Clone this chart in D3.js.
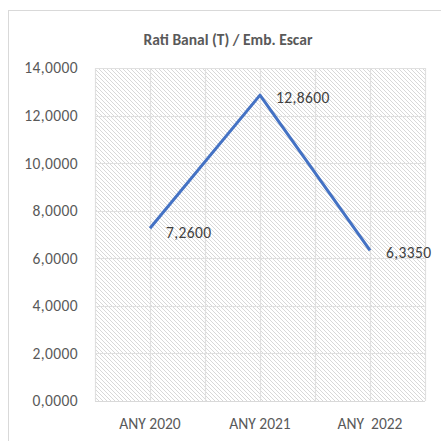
<!DOCTYPE html>
<html><head><meta charset="utf-8">
<script src="https://cdn.jsdelivr.net/npm/d3@7"></script>
<style>body{margin:0;background:#fff}</style>
</head><body>
<script>
const categories = ["ANY 2020", "ANY 2021", "ANY  2022"];
const values = [7.26, 12.86, 6.335];
const yTicks = [0, 2, 4, 6, 8, 10, 12, 14];
const title = "Rati Banal (T) / Emb. Escar";

const W = 441, H = 441;
const m = {left: 95, right: 16, top: 68, bottom: 40};
const svg = d3.select("body").append("svg").attr("width", W).attr("height", H);
const fmt = v => d3.format(".4f")(v).replace(".", ",");
const font = "Carlito, Lato, 'Liberation Sans', Arial, sans-serif";
const fs = 15.5;

// chart border
svg.append("rect").attr("x", 8.5).attr("y", 10.5).attr("width", 440).attr("height", 440)
  .attr("fill", "#fff").attr("stroke", "#d9d9d9");

const x = d3.scaleBand().domain(categories).range([m.left, W - m.right]);
const y = d3.scaleLinear().domain([0, 14]).range([H - m.bottom, m.top]);
const pw = W - m.left - m.right, ph = H - m.top - m.bottom;

svg.append("defs").append("clipPath").attr("id", "clip").append("rect")
  .attr("x", m.left).attr("y", m.top).attr("width", pw).attr("height", ph);
const hatch = svg.append("g").attr("clip-path", "url(#clip)")
  .attr("stroke", "#d4d4d4").attr("stroke-width", 0.9);
for (let c = m.left - ph; c <= W - m.right; c += 4) {
  hatch.append("line").attr("x1", c).attr("y1", m.top).attr("x2", c + ph).attr("y2", m.top + ph);
}

// gridlines
const g = svg.append("g").attr("stroke", "#e0e0e0").attr("stroke-width", 1.2);
yTicks.forEach(t => g.append("line").attr("x1", m.left).attr("x2", W - m.right)
  .attr("y1", Math.round(y(t)) + 0.5).attr("y2", Math.round(y(t)) + 0.5));
const xs = [];
categories.forEach(c => { xs.push(x(c)); xs.push(x(c) + x.bandwidth() / 2); });
xs.push(W - m.right);
xs.forEach(v => g.append("line").attr("x1", Math.round(v) + 0.5).attr("x2", Math.round(v) + 0.5)
  .attr("y1", m.top).attr("y2", H - m.bottom));
svg.append("line").attr("x1", m.left).attr("x2", W - m.right)
  .attr("y1", Math.round(y(0)) + 0.5).attr("y2", Math.round(y(0)) + 0.5).attr("stroke", "#d9d9d9").attr("stroke-width", 1.2);

// y axis labels
svg.append("g").selectAll("text").data(yTicks).join("text")
  .attr("x", 78).attr("y", d => y(d)).attr("dy", "0.35em").attr("text-anchor", "end")
  .attr("font-family", font).attr("font-size", fs).attr("letter-spacing", 0.4).attr("fill", "#595959").text(d => fmt(d));

// x axis labels
svg.append("g").selectAll("text").data(categories).join("text")
  .attr("x", d => x(d) + x.bandwidth() / 2).attr("y", 424).attr("dy", "0.35em")
  .attr("text-anchor", "middle").style("white-space", "pre")
  .attr("font-family", font).attr("font-size", fs).attr("fill", "#595959").text(d => d);

// title
svg.append("text").attr("x", 228).attr("y", 40).attr("dy", "0.35em").attr("text-anchor", "middle")
  .attr("font-family", font).attr("font-size", 15.5).attr("font-weight", "bold").attr("fill", "#595959").text(title);

// line
const line = d3.line().x((d, i) => x(categories[i]) + x.bandwidth() / 2).y(d => y(d));
svg.append("path").datum(values).attr("d", line).attr("fill", "none")
  .attr("stroke", "#4472C4").attr("stroke-width", 3).attr("stroke-linejoin", "round");

// data labels
svg.append("g").selectAll("text").data(values).join("text")
  .attr("x", (d, i) => x(categories[i]) + x.bandwidth() / 2 + 16)
  .attr("y", (d, i) => y(d) + (i === 0 ? 4 : 2))
  .attr("dy", "0.35em").attr("font-family", font).attr("font-size", fs).attr("letter-spacing", 0.4).attr("fill", "#404040")
  .text(d => fmt(d));
</script>
</body></html>
